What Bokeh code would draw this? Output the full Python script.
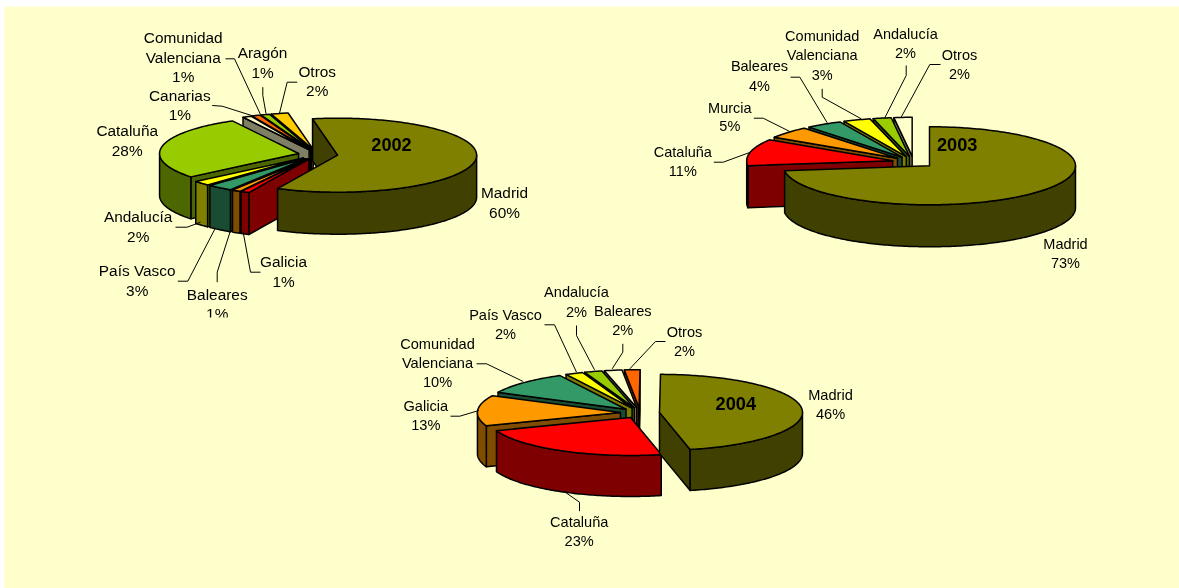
import numpy as np
from bokeh.plotting import figure
from bokeh.models import Range1d
from bokeh.core.properties import value
from bokeh.embed import file_html
from bokeh.resources import INLINE

# ---------- data ----------
names_2002 = ["Madrid", "Galicia", "Baleares", "País Vasco", "Andalucía", "Cataluña",
              "Canarias", "Comunidad Valenciana", "Aragón", "Otros"]
values_2002 = [60, 1, 1, 3, 2, 28, 1, 1, 1, 2]
colors_2002 = ["#808000", "#FF0000", "#FF9900", "#339966", "#FFFF00", "#99CC00",
               "#FFFFCC", "#FF6600", "#99CC00", "#FFCC00"]

names_2003 = ["Madrid", "Cataluña", "Murcia", "Baleares", "Comunidad Valenciana", "Andalucía", "Otros"]
values_2003 = [73, 11, 5, 4, 3, 2, 2]
colors_2003 = ["#808000", "#FF0000", "#FF9900", "#339966", "#FFFF00", "#99CC00", "#FFFFCC"]

names_2004 = ["Madrid", "Cataluña", "Galicia", "Comunidad Valenciana", "País Vasco", "Andalucía", "Baleares", "Otros"]
values_2004 = [46.45, 22.8, 13, 10, 2, 2, 2, 1.75]
colors_2004 = ["#808000", "#FF0000", "#FF9900", "#339966", "#FFFF00", "#99CC00", "#FFFFCC", "#FF6600"]

BG = "#FFFFCC"
FONT = "Liberation Sans"

# ---------- layout (reference pixel space) ----------
PIES = [
    dict(year="2002", names=names_2002, vals=values_2002, cols=colors_2002, cx=317.5, cy=154, rx=139, ry=37, depth=42,
         expl=0.1425, start=-10.4, font="15.4px", year_pos=(391, 144.5),
         labels={"Madrid": (504, [193, 213]), "Galicia": (283, [261.7, 282]), "Baleares": (216.7, [295, 314]),
                 "País Vasco": (136.7, [270.7, 290.7]), "Andalucía": (137.7, [216.7, 236.7]),
                 "Cataluña": (126.7, [130.7, 150.7]), "Canarias": (179.3, [95.7, 115]),
                 "Comunidad Valenciana": (182.7, [37.7, 57.7, 76.7]), "Aragón": (262, [53.3, 73]),
                 "Otros": (316.7, [71.7, 91])},
         leaders=[[(225, 58.3), (234, 58.3), (260, 114)], [(262.3, 86.7), (262.3, 95), (265.7, 114)],
                  [(296.7, 81.7), (286.7, 81.7), (279, 112.7)], [(211.7, 105), (221.7, 105.7), (253.3, 115.7)],
                  [(175, 226.7), (186.7, 226.7), (200, 221.7)], [(177.3, 280.7), (187.3, 280.7), (215, 227.3)],
                  [(216.7, 281.7), (216.7, 271.7), (230, 230)], [(260, 271.7), (250, 271.7), (242.7, 231.7)]]),
    dict(year="2003", names=names_2003, vals=values_2003, cols=colors_2003, cx=913, cy=161.5, rx=146, ry=39, depth=42,
         expl=0.146, start=0, font="14.5px", year_pos=(956.7, 145),
         labels={"Madrid": (1065, [244, 263.3]), "Cataluña": (682.3, [152, 171]), "Murcia": (729.3, [108, 126.7]),
                 "Baleares": (759, [66.7, 86]), "Comunidad Valenciana": (821.7, [36.7, 55.7, 75]),
                 "Andalucía": (905, [34, 53.3]), "Otros": (959, [55, 74])},
         leaders=[[(821.7, 88.3), (821.7, 96.7), (860.7, 118.3)], [(905.7, 65), (905.7, 75), (884.3, 117.3)],
                  [(940, 64), (929.3, 64), (900.7, 116.7)], [(790, 76.7), (799.3, 76.7), (826.7, 122.3)],
                  [(753.3, 117.7), (762.7, 117.7), (789.3, 131)], [(713.3, 161.7), (722.7, 161.7), (750, 151.7)]]),
    dict(year="2004", names=names_2004, vals=values_2004, cols=colors_2004, cx=639.5, cy=412.4, rx=143, ry=38, depth=41,
         expl=0.137, start=0.4, font="14.6px", year_pos=(735.3, 404),
         labels={"Madrid": (830, [395, 414]), "Cataluña": (578.7, [522.7, 541.7]), "Galicia": (425.3, [406, 425]),
                 "Comunidad Valenciana": (437, [344, 363.3, 382.3]), "País Vasco": (505, [315, 334]),
                 "Andalucía": (576, [292.7, 312]), "Baleares": (622.3, [311, 330]), "Otros": (684, [332, 351])},
         leaders=[[(576, 325), (576, 335), (594, 369.3)], [(544, 324.3), (554, 324.3), (576, 371.7)],
                  [(622.3, 343.3), (622.3, 351.7), (611.7, 368.3)], [(665, 341), (655, 341), (629.3, 368.3)],
                  [(476, 363.3), (486, 363.3), (522.7, 381)], [(450, 415.7), (459.3, 415.7), (478.3, 410)],
                  [(579, 510.7), (579, 501.7), (563.3, 490.7)]]),
]
TEXT_DY = -1.0


def darken(c):
    r, g, b = int(c[1:3], 16), int(c[3:5], 16), int(c[5:7], 16)
    return "#%02X%02X%02X" % (r // 2, g // 2, b // 2)


def angles(a, b):
    n = max(2, int(abs(b - a)) + 2)
    return np.linspace(a, b, n)


def pie_patches(pie):
    total = sum(pie["vals"])
    rx, ry, d, e = pie["rx"], pie["ry"], pie["depth"], pie["expl"]
    t = pie["start"]
    slices = []
    for i, (v, col) in enumerate(zip(pie["vals"], pie["cols"])):
        t2 = t + v / total * 360
        bis = np.radians((t + t2) / 2)
        ax = pie["cx"] + e * rx * np.sin(bis)
        ay = pie["cy"] - e * ry * np.cos(bis)
        order = 99 if i == 0 else -np.cos(bis)
        slices.append((order, ax, ay, t, t2, col))
        t = t2
    xs, ys, fills = [], [], []
    for _, ax, ay, a, b, col in sorted(slices, key=lambda s: s[0]):
        side = darken(col)

        def pt(tt):
            r = np.radians(tt)
            return ax + rx * np.sin(r), ay - ry * np.cos(r)

        # radial walls: only those turned towards the viewer
        walls = []
        if np.sin(np.radians(a)) < 0:
            walls.append(a)
        if np.sin(np.radians(b)) > 0:
            walls.append(b)
        for wall in walls:
            px, py = pt(wall)
            xs.append([ax, px, px, ax])
            ys.append([ay, py, py + d, ay + d])
            fills.append(side)
        # outer rim: only the part that faces the viewer
        for k in (-1, 0, 1):
            lo, hi = max(a, 90 + 360 * k), min(b, 270 + 360 * k)
            if hi > lo:
                th = angles(lo, hi)
                px, py = pt(th)
                xs.append(list(px) + list(px[::-1]))
                ys.append(list(py) + list((py + d)[::-1]))
                fills.append(side)
        th = angles(a, b)
        px, py = pt(th)
        xs.append([ax] + list(px))
        ys.append([ay] + list(py))
        fills.append(col)
    return xs, ys, fills


p = figure(width=1175, height=582, x_range=Range1d(4, 1179), y_range=Range1d(588, 6),
           output_backend="svg", toolbar_location=None, min_border=0,
           background_fill_color=BG, border_fill_color=BG, outline_line_color=None)
p.axis.visible = False
p.grid.visible = False
p.styles = {"position": "fixed", "left": "4px", "top": "6px"}

for pie in PIES:
    xs, ys, fills = pie_patches(pie)
    p.patches(xs, ys, fill_color=fills, line_color="#000000", line_width=1.5, line_join="round")
    p.multi_line([[q[0] for q in l] for l in pie["leaders"]], [[q[1] for q in l] for l in pie["leaders"]],
                 line_color="#000000", line_width=1.0)
    tx, ty, tt = [], [], []
    for name, v in zip(pie["names"], pie["vals"]):
        x, rows = pie["labels"][name]
        lines = name.split(" ") if name == "Comunidad Valenciana" else [name]
        lines = lines + ["%d%%" % round(v)]
        for row, line in zip(rows, lines):
            tx.append(x); ty.append(row + TEXT_DY); tt.append(line)
    p.text(tx, ty, text=tt, text_font=value(FONT), text_font_size=pie["font"], text_align="center",
           text_baseline="middle", text_color="#000000")
    p.text([pie["year_pos"][0]], [pie["year_pos"][1] + TEXT_DY], text=[pie["year"]], text_font=value(FONT),
           text_font_size="18.2px", text_font_style="bold", text_align="center", text_baseline="middle",
           text_color="#000000")

# the first chart's frame cuts its lowest label in the reference
p.quad(left=[195], right=[240], top=[317], bottom=[325], fill_color=BG, line_color=None)

open("out.html", "w").write(file_html(p, INLINE))
